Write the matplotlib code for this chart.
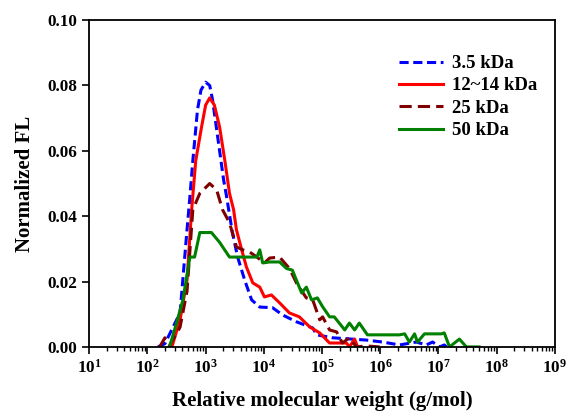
import numpy as np
import matplotlib
matplotlib.use("Agg")
import matplotlib.pyplot as plt
from matplotlib.ticker import LogLocator, FixedLocator, NullFormatter

plt.rcParams['font.family'] = ['Liberation Serif', 'DejaVu Serif']
plt.rcParams['font.weight'] = 'bold'

# log10(M) and normalized FL values
logm_35 = [2.18, 2.30, 2.56, 2.68, 2.73, 2.78, 2.86, 2.92, 3.00, 3.07, 3.12, 3.17, 3.24, 3.31,
           3.36, 3.46, 3.55, 3.67, 3.79, 3.93, 4.15, 4.32, 4.56, 4.84, 4.91, 5.18, 5.76, 6.04,
           6.33, 6.62, 6.79, 6.90, 7.02, 7.10, 7.14]
fl_35 = [0.0, 0.001, 0.0104, 0.0358, 0.046, 0.057, 0.0725, 0.0786, 0.081, 0.080, 0.0755, 0.069,
         0.060, 0.051, 0.046, 0.035, 0.0275, 0.0205, 0.0144, 0.0122, 0.012, 0.0098, 0.0077,
         0.0058, 0.0037, 0.0028, 0.0021, 0.0015, 0.0006, 0.0015, 0.0006, 0.0015, 0.0, 0.0006, 0.0]

logm_1214 = [2.42, 2.56, 2.68, 2.76, 2.83, 2.93, 3.00, 3.07, 3.15, 3.24, 3.33, 3.41, 3.48, 3.53,
             3.62, 3.70, 3.81, 3.93, 4.01, 4.13, 4.27, 4.44, 4.61, 4.79, 4.96, 5.13, 5.42, 5.47,
             5.56, 5.61]
fl_1214 = [0.0, 0.0083, 0.0205, 0.042, 0.057, 0.0673, 0.074, 0.0762, 0.074, 0.0673, 0.057,
           0.047, 0.042, 0.0358, 0.0297, 0.0245, 0.0196, 0.0183, 0.0153, 0.0159, 0.0135, 0.0104,
           0.0092, 0.0061, 0.0043, 0.0012, 0.0012, 0.0, 0.0024, 0.0]

logm_25 = [2.21, 2.30, 2.38, 2.56, 2.68, 2.78, 2.90, 3.07, 3.19, 3.29, 3.41, 3.53, 3.64, 3.76,
           3.88, 4.01, 4.10, 4.27, 4.44, 4.56, 4.73, 4.84, 4.96, 5.01, 5.13, 5.25, 5.35, 5.47,
           5.59, 5.76, 5.99]
fl_25 = [0.0, 0.0028, 0.0005, 0.006, 0.017, 0.042, 0.047, 0.050, 0.048, 0.042, 0.038, 0.0306,
         0.0297, 0.029, 0.0275, 0.0257, 0.0272, 0.0275, 0.024, 0.0196, 0.015, 0.0144, 0.0083,
         0.0092, 0.0052, 0.0046, 0.0012, 0.0028, 0.0, 0.0003, 0.0]

logm_50 = [2.38, 2.50, 2.61, 2.73, 2.81, 2.90, 3.10, 3.24, 3.41, 3.88, 3.93, 3.98, 4.10, 4.27,
           4.39, 4.49, 4.65, 4.73, 4.82, 4.92, 5.01, 5.13, 5.21, 5.39, 5.47, 5.56, 5.64, 5.78,
           6.33, 6.42, 6.50, 6.59, 6.64, 6.76, 7.05, 7.10, 7.19, 7.36, 7.48, 7.70]
fl_50 = [0.0, 0.0073, 0.0144, 0.0275, 0.0275, 0.035, 0.035, 0.032, 0.0275, 0.0275, 0.0297,
         0.0257, 0.026, 0.026, 0.024, 0.0235, 0.0165, 0.0183, 0.0144, 0.015, 0.0123, 0.0092,
         0.0092, 0.0052, 0.0073, 0.0052, 0.0073, 0.0037, 0.0037, 0.004, 0.0015, 0.004, 0.0015,
         0.004, 0.004, 0.0043, 0.0, 0.0024, 0.0, 0.0]

labels = ['3.5 kDa', '12~14 kDa', '25 kDa', '50 kDa']
xticks = [1e1, 1e2, 1e3, 1e4, 1e5, 1e6, 1e7, 1e8, 1e9]
yticks = [0.00, 0.02, 0.04, 0.06, 0.08, 0.10]

fig = plt.figure(figsize=(5.72, 4.19), dpi=100)
ax = fig.add_axes([0.156, 0.172, 0.814, 0.780])

def M(l):
    return 10 ** np.array(l)

lw = 2.2
ax.plot(M(logm_35), fl_35, color='#0000ff', lw=lw, dashes=(3, 1.5), label=labels[0])
ax.plot(M(logm_1214), fl_1214, color='#ff0000', lw=lw, label=labels[1])
ax.plot(M(logm_25), fl_25, color='#800000', lw=lw, dashes=(4, 2), label=labels[2])
ax.plot(M(logm_50), fl_50, color='#008000', lw=lw, label=labels[3])

ax.set_xscale('log')
ax.set_xlim(1e1, 1e9)
ax.set_ylim(0, 0.10)
ax.xaxis.set_major_locator(FixedLocator(xticks))
ax.xaxis.set_minor_locator(LogLocator(base=10, subs=np.arange(2, 10), numticks=100))
ax.xaxis.set_minor_formatter(NullFormatter())
ax.set_yticks(yticks)
ax.set_yticklabels([f'{v:.2f}' for v in yticks])

for s in ax.spines.values():
    s.set_linewidth(1.3)
ax.tick_params(axis='both', which='major', direction='out', length=5, width=1.2, labelsize=12.3)
ax.tick_params(axis='x', which='minor', direction='out', length=3, width=1.0)

ax.set_xlabel('Relative molecular weight (g/mol)', fontsize=15, fontweight='bold', labelpad=10)
ax.set_ylabel('Normalized FL', fontsize=15, fontweight='bold', labelpad=9)

leg = ax.legend(loc='upper left', bbox_to_anchor=(0.629, 0.945), frameon=False,
                handlelength=2.35, handletextpad=0.5, labelspacing=0.28,
                prop={'weight': 'bold', 'size': 13.5})

fig.savefig('out.png', dpi=100)
